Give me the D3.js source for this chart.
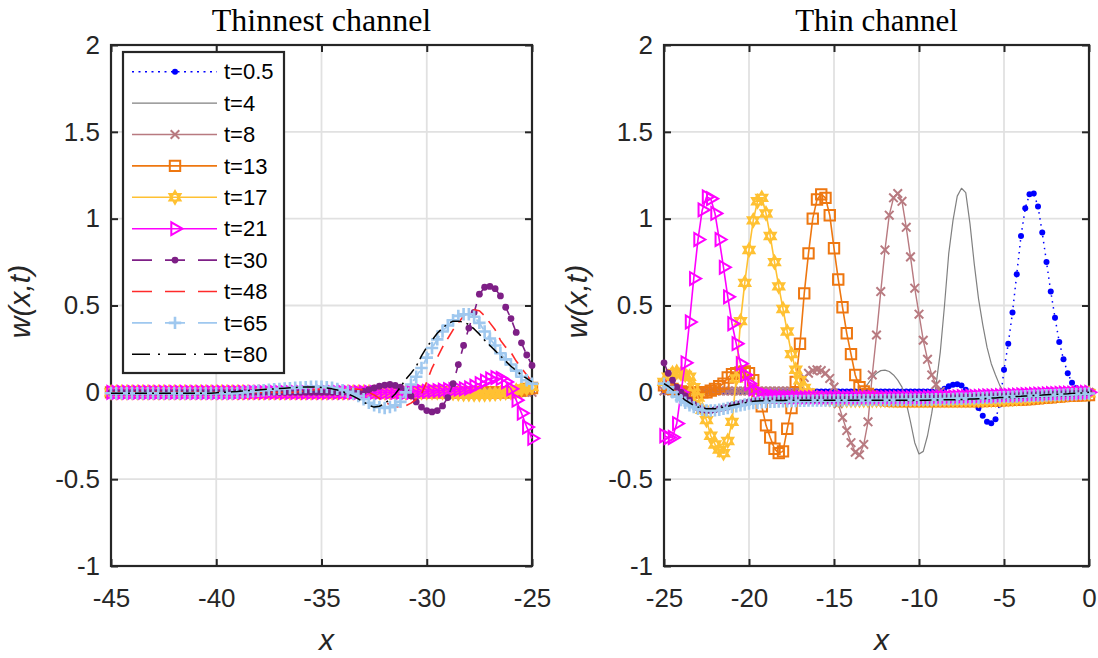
<!DOCTYPE html>
<html>
<head>
<meta charset="utf-8">
<script src="https://cdn.jsdelivr.net/npm/d3@7"></script>
<style>
  body { margin: 0; background: #ffffff; }
  svg { display: block; }
</style>
</head>
<body>
<svg id="chart" width="1098" height="658"></svg>
<script>
// ---- sample positions along the channel ----
const xLeft = d3.range(81).map(i => -45 + i * 0.25);   // thinnest channel, x in [-45,-25]
const xRight = d3.range(101).map(i => -25 + i * 0.25); // thin channel, x in [-25,0]

// ---- legend / series names ----
const seriesNames = ["t=0.5", "t=4", "t=8", "t=13", "t=17", "t=21", "t=30", "t=48", "t=65", "t=80"];

// ---- tick labels ----
const yTicks = [-1, -0.5, 0, 0.5, 1, 1.5, 2];
const yTickLabels = ["-1", "-0.5", "0", "0.5", "1", "1.5", "2"];
const xTicksLeft = [-45, -40, -35, -30, -25];
const xTickLabelsLeft = ["-45", "-40", "-35", "-30", "-25"];
const xTicksRight = [-25, -20, -15, -10, -5, 0];
const xTickLabelsRight = ["-25", "-20", "-15", "-10", "-5", "0"];

// ---- w(x,t), thinnest channel ----
const thinnest_t05 = [
 0,0,0,0,0,0,0,0,0,0, 0,0,0,0,0,0,0,0,0,0, 0,0,0,0,0,0,0,0,0,0, 0,0,0,0,0,0,0,0,0,0,
 0,0,0,0,0,0,0,0,0,0, 0,0,0,0,0,0,0,0,0,0, 0,0,0,0,0,0,0,0,0,0, 0,0,0,0,0,0,0,0,0,0, 0];
const thinnest_t4 = [
 0,0,0,0,0,0,0,0,0,0, 0,0,0,0,0,0,0,0,0,0, 0,0,0,0,0,0,0,0,0,0, 0,0,0,0,0,0,0,0,0,0,
 0,0,0,0,0,0,0,0,0,0, 0,0,0,0,0,0,0,0,0,0, 0,0,0,0,0,0,0,0,0,0, 0,0,0,0,0,0,0,0,0,0, 0];
const thinnest_t8 = [
 0,0,0,0,0,0,0,0,0,0, 0,0,0,0,0,0,0,0,0,0, 0,0,0,0,0,0,0,0,0,0, 0,0,0,0,0,0,0,0,0,0,
 0,0,0,0,0,0,0,0,0,0, 0,0,0,0,0,0,0,0,0,0, 0,0,0,0,0,0,0,0,0,0, 0,0,0,0,0,0,0,0,0,0, 0];
const thinnest_t13 = [
 0,0,0,0,0,0,0,0,0,0, 0,0,0,0,0,0,0,0,0,0, 0,0,0,0,0,0,0,0,0,0, 0,0,0,0,0,0,0,0,0,0,
 0,0,0,0,0,0,0,0,0,0, 0,0,0,0,0,0,0,0,0,0, 0,0,0,0,0,0,0,0,0,0, 0,0,0,0,0,0,
 0.0,0.005,0.01,0.02,0.025];
const thinnest_t17 = [
 0,0,0,0,0,0,0,0,0,0, 0,0,0,0,0,0,0,0,0,0, 0,0,0,0,0,0,0,0,0,0, 0,0,0,0,0,0,0,0,0,0,
 0,0,0,0,0,0,0,0,0,0, 0,0,0,0,0,0,0,0,0,0, 0,0,0,0,
 -0.005,-0.005,-0.008,-0.01,-0.01,-0.012,-0.012,-0.012,-0.01,-0.008,-0.005,-0.002,
 0.0,0.01,0.018,0.025,0.03];
const thinnest_t21 = [
 0,0,0,0,0,0,0,0,0,0, 0,0,0,0,0,0,0,0,0,0, 0,0,0,0,0,0,0,0,0,0, 0,0,0,0,0,0,0,0,0,0,
 0,0,0,0,0,0,0,0,0,0, 0,0,0,0,0,0,0,
 0.0,0.003,0.005,0.006,0.008,0.01,0.012,0.015,0.016,0.018,0.02,0.025,
 0.035,0.05,0.065,0.078,0.085,0.08,0.06,0.02,-0.045,-0.12,-0.2,-0.265];
const thinnest_t30 = [
 0,0,0,0,0,0,0,0,0,0, 0,0,0,0,0,0,0,0,0,0, 0,0,0,0,0,0,0,0,0,0, 0,0,0,0,0,0,0,0,0,0,
 0,0,0,0,0,0,0,0,
 0.005,0.015,0.025,0.035,0.042,0.045,0.04,0.03,0.01,-0.02,-0.055,-0.085,-0.105,-0.113,
 -0.105,-0.078,-0.03,0.05,0.16,0.27,0.37,0.46,0.565,0.605,0.61,0.597,0.555,0.49,0.425,
 0.345,0.285,0.215,0.155];
const thinnest_t48 = [
 0,0,0,0,0,0,0,0,0,0, 0,0,0,0,0,0,0,0,0,0, 0,0,0,0,0,0,0,0,0,0, 0,0,0,0,0,0,
 0.005,0.008,0.012,0.015,0.018,0.02,0.022,0.022,0.022,0.022,0.02,0.018,0.012,0.0,
 -0.015,-0.035,-0.055,-0.07,-0.082,-0.085,-0.078,-0.062,-0.04,-0.01,0.06,0.14,0.2,0.26,
 0.31,0.36,0.40,0.44,0.465,0.475,0.47,0.44,0.40,0.36,0.30,0.26,0.23,0.18,0.14,0.10,0.06];
const thinnest_t65 = [
 -0.005,-0.005,-0.005,-0.005,-0.005,-0.005,-0.005,-0.005,-0.005,-0.005,
 -0.005,-0.005,-0.005,-0.005,-0.005,-0.005,-0.005,-0.005,-0.005,-0.005,
 -0.005,-0.005,-0.005,-0.005,
 -0.003,0.0,0.003,0.006,0.009,0.012,0.015,0.018,0.02,0.022,0.024,0.026,0.028,0.03,
 0.032,0.033,0.032,0.03,0.026,0.02,0.012,0.003,-0.008,-0.022,-0.04,-0.06,-0.075,-0.085,
 -0.09,-0.085,-0.075,-0.055,0.0,0.045,0.09,0.14,0.20,0.255,0.305,0.35,0.385,0.415,0.44,
 0.45,0.45,0.435,0.40,0.35,0.31,0.27,0.225,0.19,0.16,0.125,0.09,0.07,0.05];
const thinnest_t80 = [
 -0.005,-0.005,-0.005,-0.005,-0.005,-0.005,-0.005,-0.005,-0.005,-0.005,
 -0.005,-0.005,-0.005,-0.005,-0.005,-0.005,-0.005,-0.005,-0.005,-0.005,
 -0.003,0.0,0.0,0.003,0.005,0.008,0.01,0.012,0.014,0.016,0.018,0.02,0.022,0.024,0.026,
 0.028,0.03,0.031,0.031,0.03,0.028,0.025,0.02,0.013,0.005,-0.008,-0.022,-0.038,-0.055,
 -0.075,-0.085,-0.08,-0.065,-0.04,-0.01,0.03,0.075,0.11,0.15,0.21,0.26,0.30,0.34,0.37,
 0.395,0.41,0.41,0.405,0.39,0.365,0.335,0.30,0.27,0.24,0.21,0.18,0.15,0.125,0.10,0.08,0.06];

// ---- w(x,t), thin channel ----
const thin_t05 = [
 0.005,0.005,0.005,0.005,0.005,0.005,0.005,0.005,0.005,0.005,
 0.005,0.005,0.005,0.005,0.005,0.005,0.005,0.005,0.005,0.005,
 0.005,0.005,0.005,0.005,0.005,0.005,0.005,0.005,0.005,0.005,
 0.005,0.005,0.005,0.005,0.005,0.005,0.005,0.005,0.005,0.005,
 0.005,0.005,0.005,0.005,0.005,0.005,0.005,0.005,0.005,0.005,
 0.005,0.005,0.005,0.005,0.005,0.005,0.005,0.005,0.005,0.005,
 0.005,0.005,0.005,0.005,
 0.0,0.008,0.02,0.035,0.043,0.046,0.04,0.015,-0.015,-0.05,-0.09,-0.135,-0.17,-0.178,
 -0.155,-0.07,0.13,0.28,0.46,0.68,0.90,1.06,1.14,1.145,1.07,0.92,0.75,0.58,0.43,0.29,
 0.19,0.11,0.055,0.025,0.01,0.005,0.0];
const thin_t4 = [
 0,0,0,0,0,0,0,0,0,0, 0,0,0,0,0,0,0,0,0,0, 0,0,0,0,0,0,0,0,0,0, 0,0,0,0,0,0,0,0,0,0,
 0,0,0,0,0,0,
 0.0,0.02,0.05,0.085,0.11,0.125,0.128,0.12,0.10,0.07,0.03,-0.06,-0.17,-0.29,-0.355,
 -0.34,-0.25,-0.12,0.04,0.23,0.50,0.80,0.99,1.13,1.175,1.15,0.97,0.74,0.54,0.39,0.26,
 0.165,0.10,0.04,0.0,-0.015,-0.02,-0.02,-0.02,-0.02,-0.02,-0.018,-0.018,-0.016,-0.015,
 -0.014,-0.012,-0.01,-0.009,-0.008,-0.006,-0.005,-0.003,-0.002,0.0];
const thin_t8 = [
 0.008,0.008,0.008,0.008,0.008,0.008,0.008,0.008,0.008,0.008,
 0.008,0.008,0.008,0.008,0.008,0.008,0.008,0.008,0.008,0.008,
 0.008,0.008,0.008,0.008,0.008,0.008,0.008,0.008,0.008,0.008,0.008,0.008,
 0.04,0.085,0.11,0.125,0.13,0.125,0.11,0.08,0.03,-0.065,-0.145,-0.22,-0.29,-0.345,
 -0.36,-0.30,-0.17,0.10,0.33,0.58,0.82,1.02,1.12,1.145,1.10,0.95,0.78,0.60,0.45,0.30,
 0.19,0.10,0.045,0.005,-0.02,-0.03,
 -0.035,-0.035,-0.035,-0.035,-0.035,-0.035,-0.034,-0.033,-0.032,-0.031,-0.03,-0.03,
 -0.029,-0.028,-0.027,-0.026,-0.025,-0.024,-0.023,-0.022,-0.021,-0.02,-0.019,-0.018,
 -0.016,-0.014,-0.012,-0.01,-0.008,-0.006,-0.004,-0.002,0.0];
const thin_t13 = [
 0.04,0.03,0.02,0.01,0.005,0.0,0.0,0.0,0.0,0.0,
 0.0,0.01,0.02,0.035,0.05,0.085,0.105,0.11,0.115,0.12,0.11,0.07,-0.01,-0.08,-0.19,
 -0.26,-0.325,-0.35,-0.34,-0.21,-0.09,0.06,0.28,0.57,0.80,1.00,1.11,1.14,1.12,1.02,
 0.83,0.65,0.49,0.34,0.22,0.10,0.03,0.005,-0.01,-0.025,-0.035,-0.04,-0.045,-0.048,
 -0.05,-0.05,-0.05,-0.05,-0.05,-0.05,-0.05,-0.05,-0.05,-0.05,-0.05,
 -0.05,-0.05,-0.05,-0.05,-0.05,-0.05,-0.05,-0.05,-0.05,-0.05,-0.05,
 -0.049,-0.048,-0.047,-0.046,-0.045,-0.044,-0.043,-0.042,-0.041,-0.04,-0.038,-0.036,
 -0.034,-0.032,-0.03,-0.028,-0.026,-0.024,-0.022,-0.02,-0.019,-0.018,-0.017,-0.016,-0.015];
const thin_t17 = [
 0.06,0.09,0.11,0.117,0.108,0.10,0.09,0.03,-0.03,-0.10,-0.16,-0.25,-0.30,-0.33,-0.35,
 -0.28,-0.17,0.08,0.41,0.63,0.82,0.99,1.10,1.12,1.03,0.90,0.75,0.61,0.48,0.35,0.22,
 0.13,0.07,0.025,0.0,
 -0.02,-0.03,-0.035,-0.038,-0.04,-0.042,-0.043,-0.044,-0.045,-0.045,
 -0.045,-0.045,-0.045,-0.045,-0.045,-0.045,-0.045,-0.045,-0.045,-0.045,
 -0.045,-0.045,-0.045,-0.045,-0.045,-0.045,-0.045,-0.045,-0.045,-0.045,
 -0.045,-0.045,-0.045,-0.045,-0.045,-0.045,-0.045,-0.045,-0.045,-0.045,-0.045,
 -0.044,-0.043,-0.042,-0.041,-0.04,-0.039,-0.038,-0.036,-0.034,-0.032,-0.03,-0.028,
 -0.026,-0.024,-0.022,-0.02,-0.018,-0.016,-0.014,-0.012,-0.01,-0.009,-0.008,-0.007,-0.006];
const thin_t21 = [
 -0.25,-0.26,-0.26,-0.18,0.0,0.17,0.405,0.655,0.88,1.05,1.125,1.115,1.03,0.88,0.72,
 0.55,0.395,0.28,0.165,0.10,0.05,0.02,0.0,-0.01,-0.018,
 -0.022,-0.025,-0.027,-0.028,-0.029,
 -0.03,-0.03,-0.03,-0.03,-0.03,-0.03,-0.03,-0.03,-0.03,-0.03,
 -0.03,-0.03,-0.03,-0.03,-0.03,-0.03,-0.03,-0.03,-0.03,-0.03,
 -0.03,-0.03,-0.03,-0.03,-0.03,-0.03,-0.03,-0.03,-0.03,-0.03,-0.03,
 -0.03,-0.029,-0.029,-0.028,-0.028,-0.027,-0.027,-0.026,-0.026,-0.025,-0.025,-0.024,
 -0.023,-0.023,-0.022,-0.021,-0.021,-0.02,-0.019,-0.018,-0.018,-0.017,-0.016,-0.015,
 -0.014,-0.013,-0.012,-0.011,-0.01,-0.009,-0.008,-0.007,-0.006,-0.005,-0.004,-0.004,
 -0.003,-0.002,-0.001,0.0];
const thin_t30 = [
 0.17,0.11,0.07,0.03,0.0,-0.02,-0.045,-0.07,-0.09,-0.10,-0.105,-0.105,-0.10,-0.095,
 -0.09,-0.085,-0.075,-0.07,-0.065,-0.06,-0.055,
 -0.052,-0.05,-0.049,-0.048,-0.047,-0.046,-0.045,-0.045,-0.044,-0.044,-0.043,-0.043,
 -0.042,-0.042,-0.042,-0.041,-0.041,-0.041,-0.04,-0.04,-0.04,-0.04,-0.039,-0.039,
 -0.039,-0.039,-0.038,-0.038,-0.038,-0.038,-0.037,-0.037,-0.037,-0.036,-0.036,-0.036,
 -0.035,-0.035,-0.035,-0.034,
 -0.034,-0.033,-0.033,-0.032,-0.032,-0.031,-0.031,-0.03,-0.03,-0.029,-0.028,-0.028,
 -0.027,-0.026,-0.026,-0.025,-0.024,-0.023,-0.023,-0.022,-0.021,-0.02,-0.019,-0.018,
 -0.017,-0.016,-0.015,-0.014,-0.013,-0.012,-0.011,-0.01,-0.009,-0.008,-0.007,-0.006,
 -0.004,-0.003,-0.002,0.0];
const thin_t48 = [
 0.08,0.05,0.02,-0.01,-0.035,-0.055,-0.07,-0.082,-0.09,-0.095,-0.098,-0.098,-0.096,
 -0.093,-0.089,-0.085,-0.08,-0.075,-0.07,-0.066,-0.062,
 -0.058,-0.055,-0.053,-0.051,-0.05,-0.049,-0.048,-0.048,-0.047,-0.047,-0.046,-0.046,
 -0.046,-0.045,-0.045,-0.045,-0.045,-0.045,-0.044,-0.044,-0.044,-0.044,-0.044,-0.044,
 -0.043,-0.043,-0.043,-0.043,-0.043,-0.042,-0.042,-0.042,-0.042,-0.042,-0.041,-0.041,
 -0.041,-0.041,-0.04,-0.04,
 -0.04,-0.04,-0.039,-0.039,-0.038,-0.038,-0.037,-0.037,-0.036,-0.035,-0.035,-0.034,
 -0.033,-0.032,-0.031,-0.03,-0.029,-0.028,-0.027,-0.026,-0.025,-0.024,-0.023,-0.022,
 -0.021,-0.02,-0.019,-0.018,-0.017,-0.016,-0.015,-0.013,-0.012,-0.01,-0.009,-0.007,
 -0.006,-0.004,-0.002,0.0];
const thin_t65 = [
 0.05,0.03,0.0,-0.025,-0.045,-0.06,-0.075,-0.085,-0.095,-0.10,-0.104,-0.105,-0.104,
 -0.10,-0.095,-0.09,-0.085,-0.08,-0.075,-0.07,-0.065,
 -0.062,-0.06,-0.058,-0.056,-0.055,-0.054,-0.053,-0.052,-0.051,-0.05,
 -0.05,-0.049,-0.049,-0.048,-0.048,-0.048,-0.047,-0.047,-0.047,-0.047,
 -0.046,-0.046,-0.046,-0.046,-0.046,-0.045,-0.045,-0.045,-0.045,-0.045,
 -0.045,-0.044,-0.044,-0.044,-0.044,-0.043,-0.043,-0.043,-0.042,-0.042,
 -0.042,-0.041,-0.041,-0.04,-0.04,-0.039,-0.039,-0.038,-0.037,-0.037,
 -0.036,-0.035,-0.034,-0.033,-0.032,-0.031,-0.03,-0.029,-0.028,-0.027,
 -0.026,-0.025,-0.024,-0.023,-0.022,-0.021,-0.02,-0.019,-0.018,-0.017,
 -0.016,-0.015,-0.014,-0.013,-0.012,-0.011,-0.01,-0.009,-0.008,-0.007];
const thin_t80 = [
 0.05,0.035,0.015,0.0,-0.025,-0.045,-0.06,-0.075,-0.085,-0.09,-0.094,-0.095,-0.094,
 -0.09,-0.085,-0.08,-0.075,-0.07,-0.065,-0.06,-0.055,
 -0.052,-0.05,-0.049,-0.048,-0.048,-0.047,-0.047,-0.047,
 -0.046,-0.046,-0.046,-0.046,-0.046,-0.046,-0.046,-0.046,-0.046,-0.046,-0.046,-0.046,
 -0.046,-0.046,-0.046,-0.046,-0.046,-0.046,-0.046,-0.046,-0.046,-0.046,-0.046,
 -0.045,-0.045,-0.045,-0.045,-0.045,-0.045,-0.045,-0.045,-0.045,
 -0.045,-0.045,-0.044,-0.044,-0.044,-0.043,-0.043,-0.042,-0.042,-0.041,
 -0.04,-0.039,-0.038,-0.037,-0.036,-0.035,-0.033,-0.032,-0.03,-0.029,
 -0.027,-0.026,-0.024,-0.023,-0.021,-0.02,-0.018,-0.017,-0.016,-0.014,
 -0.013,-0.012,-0.01,-0.009,-0.008,-0.006,-0.005,-0.004,-0.002,0.0];

// ---- line / marker styles, one per time step ----
const styles = [
  { color: "#0000ff", width: 1.5, dash: "1.5,4.5", legendDash: "2,4.5", marker: "dot", size: 3.0, mw: 0 },
  { color: "#808080", width: 1.2, dash: null, legendDash: null, marker: null, size: 0, mw: 0 },
  { color: "#b87a80", width: 1.4, dash: null, legendDash: null, marker: "x", size: 4.3, mw: 2 },
  { color: "#ee7710", width: 1.6, dash: null, legendDash: null, marker: "square", size: 5.2, mw: 2 },
  { color: "#ffc132", width: 1.6, dash: null, legendDash: null, marker: "hex", size: 6.4, mw: 2 },
  { color: "#ff00ff", width: 1.6, dash: null, legendDash: null, marker: "tri", size: 7.4, mw: 2 },
  { color: "#7e1f86", width: 1.6, dash: "12,8", legendDash: "20,13", marker: "dot", size: 3.4, mw: 0 },
  { color: "#ff2a2a", width: 1.6, dash: "12,8", legendDash: "20,13", marker: null, size: 0, mw: 0 },
  { color: "#9fc8ef", width: 1.8, dash: "12,8", legendDash: "20,13", marker: "plus", size: 6.2, mw: 2.6 },
  { color: "#000000", width: 1.5, dash: "12,5,2,5", legendDash: "18,8,2,8", marker: null, size: 0, mw: 0 }
];

const svg = d3.select("#chart");
const ink = "#262626";
const y = d3.scaleLinear().domain([-1, 2]).range([566, 45]);
const sansFont = "'Liberation Sans', Arial, Helvetica, sans-serif";

function markerPath(type, s) {
  switch (type) {
    case "x": return `M${-s},${-s}L${s},${s}M${-s},${s}L${s},${-s}`;
    case "plus": return `M${-s},0H${s}M0,${-s}V${s}`;
    case "square": return `M${-s},${-s}H${s}V${s}H${-s}Z`;
    case "tri": return `M${s},0L${-s * 0.5},${-s * 0.866}L${-s * 0.5},${s * 0.866}Z`;
    case "hex": {
      const a = s * 0.866, b = s * 0.5;
      return `M0,${-s}L${a},${b}L${-a},${b}ZM0,${s}L${a},${-b}L${-a},${-b}Z`;
    }
  }
  return "";
}

function drawMarkers(g, st, pts) {
  if (!st.marker) return;
  if (st.marker === "dot") {
    g.append("g").selectAll("circle").data(pts).join("circle")
      .attr("cx", d => d[0]).attr("cy", d => d[1]).attr("r", st.size)
      .attr("fill", st.color).attr("stroke", "none");
  } else {
    g.append("g").selectAll("path").data(pts).join("path")
      .attr("transform", d => `translate(${d[0]},${d[1]})`)
      .attr("d", markerPath(st.marker, st.size))
      .attr("fill", "none").attr("stroke", st.color)
      .attr("stroke-width", st.mw)
      .attr("stroke-linejoin", "miter");
  }
}

function drawPanel(cfg) {
  const x = d3.scaleLinear().domain(cfg.domain).range(cfg.range);
  const g = svg.append("g");
  const [x0, x1] = cfg.range;
  const [yb, yt] = y.range();

  // grid
  g.append("g").selectAll("line").data(cfg.xTicks).join("line")
    .attr("x1", d => x(d)).attr("x2", d => x(d)).attr("y1", yt).attr("y2", yb)
    .attr("stroke", "#e1e1e1").attr("stroke-width", 1.8);
  g.append("g").selectAll("line").data(yTicks).join("line")
    .attr("x1", x0).attr("x2", x1).attr("y1", d => y(d)).attr("y2", d => y(d))
    .attr("stroke", "#e1e1e1").attr("stroke-width", 1.8);

  // axes with inward ticks on all four sides
  const bottom = g.append("g").attr("transform", `translate(0,${yb})`)
    .call(d3.axisBottom(x).tickValues(cfg.xTicks).tickFormat((d, i) => cfg.xLabels[i])
      .tickSize(-7).tickPadding(23));
  const top = g.append("g").attr("transform", `translate(0,${yt})`)
    .call(d3.axisTop(x).tickValues(cfg.xTicks).tickFormat("").tickSize(-7));
  const left = g.append("g").attr("transform", `translate(${x0},0)`)
    .call(d3.axisLeft(y).tickValues(yTicks).tickFormat((d, i) => yTickLabels[i])
      .tickSize(-7).tickPadding(11));
  const right = g.append("g").attr("transform", `translate(${x1},0)`)
    .call(d3.axisRight(y).tickValues(yTicks).tickFormat("").tickSize(-7));
  [bottom, top, left, right].forEach(a => {
    a.select(".domain").remove();
    a.selectAll(".tick line").attr("stroke", ink).attr("stroke-width", 2);
    a.selectAll(".tick text").attr("fill", ink).style("font-family", sansFont).style("font-size", "26px");
  });

  // box
  g.append("rect").attr("x", x0).attr("y", yt).attr("width", x1 - x0).attr("height", yb - yt)
    .attr("fill", "none").attr("stroke", ink).attr("stroke-width", 2.2);

  // series
  const line = d3.line().x(d => d[0]).y(d => d[1]);
  cfg.data.forEach((vals, k) => {
    const st = styles[k];
    const pts = vals.map((v, i) => [x(cfg.xs[i]), y(v)]);
    const sg = g.append("g");
    sg.append("path").attr("d", line(pts)).attr("fill", "none")
      .attr("stroke", st.color).attr("stroke-width", st.width)
      .attr("stroke-dasharray", st.dash).attr("stroke-linejoin", "round");
    drawMarkers(sg, st, pts);
  });

  // title and axis labels
  g.append("text").attr("x", (x0 + x1) / 2).attr("y", 31).attr("text-anchor", "middle")
    .style("font-family", "'Liberation Serif', 'Times New Roman', serif").style("font-size", cfg.titleSize)
    .attr("fill", "#000").text(cfg.title);
  g.append("text").attr("x", (x0 + x1) / 2 + 5).attr("y", 650).attr("text-anchor", "middle")
    .style("font-family", sansFont).style("font-style", "italic").style("font-size", "30px")
    .attr("fill", ink).text("x");
  g.append("text").attr("transform", `translate(${x0 - cfg.ylabelOffset},${(yt + yb) / 2 - 4}) rotate(-90)`)
    .attr("text-anchor", "middle")
    .style("font-family", sansFont).style("font-style", "italic").style("font-size", "30px")
    .attr("fill", ink).text("w(x,t)");
  return g;
}

drawPanel({
  domain: [-45, -25], range: [111, 532], xs: xLeft,
  xTicks: xTicksLeft, xLabels: xTickLabelsLeft, title: "Thinnest channel",
  titleSize: "32px", ylabelOffset: 81,
  data: [thinnest_t05, thinnest_t4, thinnest_t8, thinnest_t13, thinnest_t17,
         thinnest_t21, thinnest_t30, thinnest_t48, thinnest_t65, thinnest_t80]
});
drawPanel({
  domain: [-25, 0], range: [664, 1089], xs: xRight,
  xTicks: xTicksRight, xLabels: xTickLabelsRight, title: "Thin channel",
  titleSize: "31px", ylabelOffset: 77,
  data: [thin_t05, thin_t4, thin_t8, thin_t13, thin_t17,
         thin_t21, thin_t30, thin_t48, thin_t65, thin_t80]
});

// legend
const lg = svg.append("g");
const lx0 = 123, ly0 = 52, lw = 161, lh = 321, rowH = 31.4, rowY0 = 71.7;
lg.append("rect").attr("x", lx0).attr("y", ly0).attr("width", lw).attr("height", lh)
  .attr("fill", "#fff").attr("stroke", ink).attr("stroke-width", 2.2);
seriesNames.forEach((name, k) => {
  const st = styles[k];
  const ry = rowY0 + k * rowH;
  const rg = lg.append("g");
  rg.append("line").attr("x1", 132).attr("x2", 217).attr("y1", ry).attr("y2", ry)
    .attr("stroke", st.color).attr("stroke-width", st.width)
    .attr("stroke-dasharray", st.legendDash);
  drawMarkers(rg, st, [[175, ry]]);
  rg.append("text").attr("x", 224).attr("y", ry).attr("dy", "0.35em")
    .style("font-family", sansFont).style("font-size", "22px")
    .attr("fill", "#000").text(name);
});
</script>
</body>
</html>
